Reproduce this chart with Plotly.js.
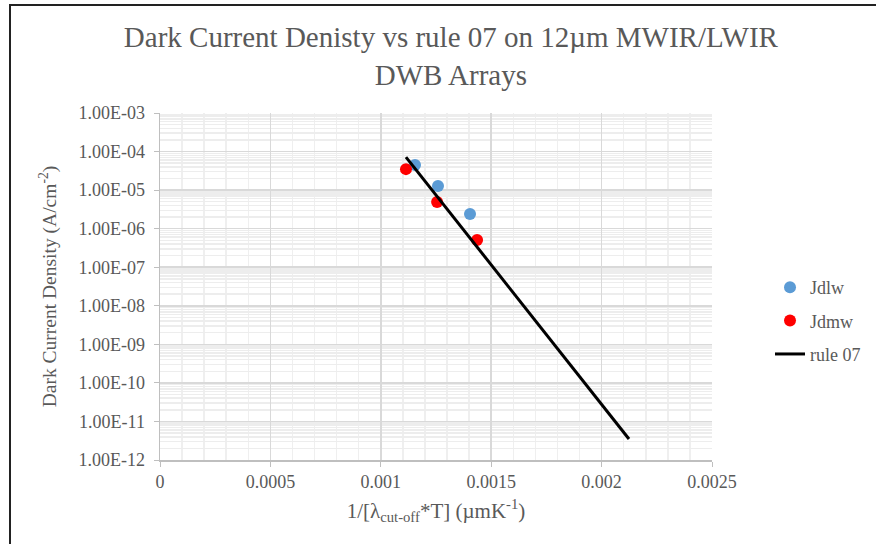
<!DOCTYPE html>
<html>
<head>
<meta charset="utf-8">
<script src="https://cdn.plot.ly/plotly-3.0.1.min.js"></script>
<style>
html,body{margin:0;padding:0;background:#fff;}
#frame{position:absolute;left:9px;top:4px;width:900px;height:600px;border-top:2px solid #222;border-left:2px solid #222;pointer-events:none;z-index:10;}
#chart{position:absolute;left:0;top:0;width:876px;height:544px;}
</style>
</head>
<body>
<div id="chart"></div>
<div id="frame"></div>
<script>
// Data
const jdlwX = [0.001155, 0.001259, 0.001404];
const jdlwY = [4.5e-5, 1.28e-5, 2.4e-6];
const jdmwX = [0.001114, 0.001255, 0.001436];
const jdmwY = [3.5e-5, 4.9e-6, 5.1e-7];
const ruleX = [0.001114, 0.002124];
const ruleY = [7.2e-5, 3.5e-12];

const yTickVals = [1e-12, 1e-11, 1e-10, 1e-9, 1e-8, 1e-7, 1e-6, 1e-5, 1e-4, 1e-3];
const yTickText = ['1.00E-12','1.00E-11','1.00E-10','1.00E-09','1.00E-08','1.00E-07','1.00E-06','1.00E-05','1.00E-04','1.00E-03'];
const xTickVals = [0, 0.0005, 0.001, 0.0015, 0.002, 0.0025];
const xTickText = ['0','0.0005','0.001','0.0015','0.002','0.0025'];

const serif = 'Liberation Serif, Times New Roman, serif';
const grey = '#595959';

const traces = [
  {x: jdlwX, y: jdlwY, name: 'Jdlw', mode: 'markers', type: 'scatter', legendgroup: 'a',
   marker: {color: '#5b9bd5', size: 12}},
  {x: jdmwX, y: jdmwY, name: 'Jdmw', mode: 'markers', type: 'scatter', legendgroup: 'b',
   marker: {color: '#ff0000', size: 12}},
  {x: ruleX, y: ruleY, name: 'rule 07', mode: 'lines', type: 'scatter', legendgroup: 'c',
   line: {color: '#000000', width: 3}}
];

const layout = {
  width: 876, height: 544,
  margin: {l: 160, r: 164, t: 113, b: 84},
  paper_bgcolor: '#ffffff', plot_bgcolor: '#ffffff',
  font: {family: serif, color: grey, size: 18},
  title: {text: 'Dark Current Denisty vs rule 07 on 12µm MWIR/LWIR<br>DWB Arrays',
          font: {family: serif, size: 29, color: grey, lineposition: 'none'},
          x: 0.527, xref: 'paper', xanchor: 'center', y: 0.913, yref: 'container', yanchor: 'top',
          pad: {t: 0}},
  xaxis: {
    range: [0, 0.0025], tickmode: 'array', tickvals: xTickVals, ticktext: xTickText,
    showgrid: true, gridcolor: '#d9d9d9', gridwidth: 1.5,
    showline: true, linecolor: '#bfbfbf', linewidth: 1.5,
    ticks: 'outside', ticklen: 5, tickcolor: '#bfbfbf', zeroline: false,
    tickfont: {family: serif, size: 18, color: grey},
    minor: {dtick: 0.0001, showgrid: true, gridcolor: '#efefef', gridwidth: 1.5},
    title: {text: '1/[λ<sub>cut-off</sub>*T] (µmK<sup>-1</sup>)', font: {family: serif, size: 21, color: grey}, standoff: 12}
  },
  yaxis: {
    type: 'log', range: [-12, -3], tickmode: 'array', tickvals: yTickVals, ticktext: yTickText,
    showgrid: true, gridcolor: '#d9d9d9', gridwidth: 1.5,
    showline: true, linecolor: '#bfbfbf', linewidth: 1.5,
    ticks: 'outside', ticklen: 5, tickcolor: '#bfbfbf', zeroline: false,
    ticklabelstandoff: 5,
    tickfont: {family: serif, size: 18, color: grey},
    minor: {dtick: 'D1', showgrid: true, gridcolor: '#ededed', gridwidth: 1.5},
    title: {text: 'Dark Current Density (A/cm<sup>-2</sup>)', font: {family: serif, size: 19.5, color: grey}, standoff: 16}
  },
  showlegend: true,
  legend: {x: 0.879, xref: 'container', xanchor: 'left', y: 0.41, yref: 'container', yanchor: 'middle', tracegroupgap: 7,
           font: {family: serif, size: 18, color: grey}, bgcolor: 'rgba(0,0,0,0)'}
};

Plotly.newPlot('chart', traces, layout, {displayModeBar: false, staticPlot: true});
</script>
</body>
</html>
